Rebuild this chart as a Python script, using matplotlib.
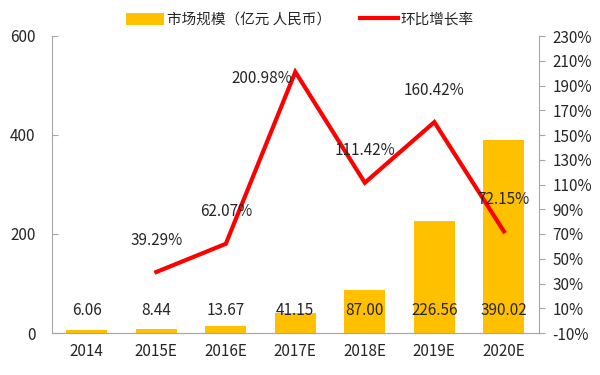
import matplotlib
matplotlib.use('Agg')
import matplotlib.pyplot as plt
from matplotlib.ticker import FuncFormatter

plt.rcParams['font.family'] = ['Noto Sans CJK SC', 'DejaVu Sans']

# data
years = ['2014', '2015E', '2016E', '2017E', '2018E', '2019E', '2020E']
market_size = [6.06, 8.44, 13.67, 41.15, 87.00, 226.56, 390.02]   # 亿元
growth_years = ['2015E', '2016E', '2017E', '2018E', '2019E', '2020E']
growth_rate = [39.29, 62.07, 200.98, 111.42, 160.42, 72.15]        # %

bar_color = '#FFC000'
line_color = '#FF0000'
text_color = '#262626'
spine_color = '#A6A6A6'

fig = plt.figure(figsize=(6, 3.75), dpi=100)
ax = fig.add_axes([0.0867, 0.112, 0.811, 0.792])
ax2 = ax.twinx()

x = list(range(len(years)))
bars = ax.bar(x, market_size, width=0.59, color=bar_color, label='市场规模（亿元 人民币）', zorder=2)

gx = [years.index(y) for y in growth_years]
line, = ax2.plot(gx, growth_rate, color=line_color, lw=3, label='环比增长率', zorder=3,
                 solid_joinstyle='miter')

ax.set_xlim(-0.5, len(years) - 0.5)
ax.set_ylim(0, 600)
ax.set_yticks([0, 200, 400, 600])
ax2.set_ylim(-10, 230)
ax2.set_yticks(range(-10, 231, 20))
ax2.yaxis.set_major_formatter(FuncFormatter(lambda v, p: '%d%%' % v))

ax.set_xticks(x)
ax.set_xticklabels(years)

# value labels for bars, all at the same height
for i, v in enumerate(market_size):
    ax.text(i, 46, '%.2f' % v, ha='center', va='center', fontsize=11, color=text_color, zorder=4)

# growth labels
for i, v in zip(gx, growth_rate):
    if v > 200:
        ax2.annotate('%.2f%%' % v, (i, v), xytext=(-2, -5), textcoords='offset points',
                     ha='right', va='center', fontsize=11, color=text_color, zorder=5)
    else:
        ax2.annotate('%.2f%%' % v, (i, v), xytext=(0, 23), textcoords='offset points',
                     ha='center', va='center', fontsize=11, color=text_color, zorder=5)

for a in (ax, ax2):
    for s in a.spines.values():
        s.set_visible(False)
    a.spines['bottom'].set_visible(True)
    a.spines['bottom'].set_color(spine_color)

ax.spines['left'].set_visible(True)
ax.spines['left'].set_color(spine_color)
ax2.spines['right'].set_visible(True)
ax2.spines['right'].set_color(spine_color)

ax.tick_params(axis='y', direction='in', length=4, color=spine_color, labelsize=11,
               labelcolor=text_color, pad=12)
ax.tick_params(axis='x', length=0, labelsize=11, labelcolor=text_color, pad=7)
ax2.tick_params(axis='y', direction='out', length=4, color=spine_color, labelsize=11,
                labelcolor=text_color, pad=6)

fig.legend(handles=[bars, line], loc='center', bbox_to_anchor=(0.5, 0.947), ncol=2,
           frameon=False, fontsize=10.5, handlelength=2.6, handleheight=0.9,
           columnspacing=2.0, handletextpad=0.2, labelcolor=text_color)

fig.savefig('out.png', dpi=100)
